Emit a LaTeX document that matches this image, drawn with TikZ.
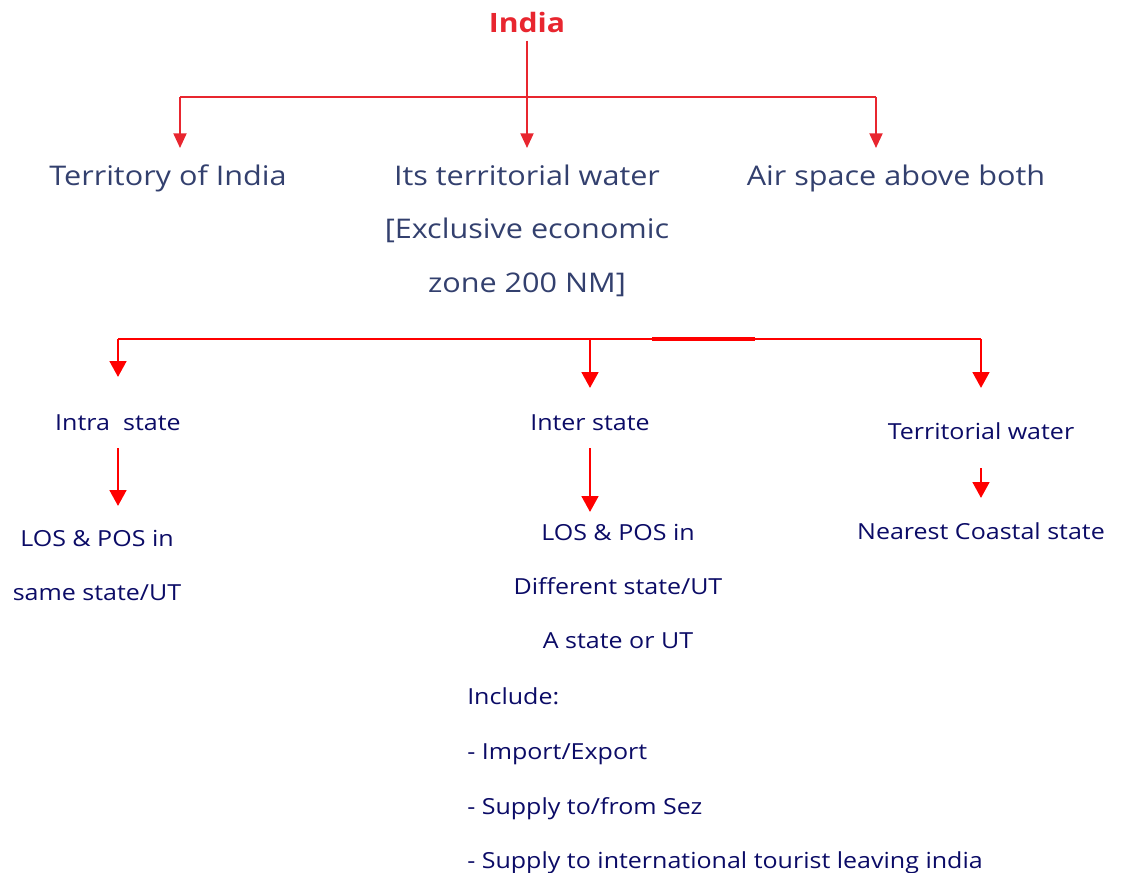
\documentclass[tikz,border=0pt]{standalone}
\usepackage{fontspec}
\setmainfont{Open Sans}
\newfontfamily\widesans{Open Sans}[FakeStretch=1.13]
\usetikzlibrary{arrows.meta}
\definecolor{topblue}{HTML}{33406E}
\definecolor{topred}{HTML}{E8262F}
\definecolor{navy}{HTML}{0B0B66}
\definecolor{botred}{HTML}{FF0000}
\begin{document}
\begin{tikzpicture}[x=0.75pt,y=-0.75pt,
  title/.style={text=topred, font=\widesans\bfseries\fontsize{20}{25}\selectfont, inner sep=0pt, anchor=base},
  toptext/.style={text=topblue, font=\widesans\fontsize{20.3}{24}\selectfont, inner sep=0pt, anchor=base},
  bottext/.style={text=navy, font=\widesans\fontsize{16.6}{21}\selectfont, inner sep=0pt, anchor=base},
  listtext/.style={bottext, anchor=base west},
  topline/.style={draw=topred, line width=1.5pt},
  toparrow/.style={topline, -{Triangle[width=9.75pt,length=11pt]}},
  botline/.style={draw=botred, line width=2.1pt},
  botarrow/.style={botline, -{Triangle[width=12.5pt,length=12pt]}},
]
\useasboundingbox (0,0) rectangle (1121,872);

% --- first level
\node[title] (india) at (527,32) {India};
\node[toptext] (terr)  at (168,185) {Territory of India};
\node[toptext] (water) at (527,185) {Its territorial water};
\node[toptext] (eez1)  at (527,238) {[Exclusive economic};
\node[toptext] (eez2)  at (527,292) {zone 200 NM]};
\node[toptext] (air)   at (896,185) {Air space above both};

\coordinate (j0) at (527,97);
\coordinate (jL) at (180,97);
\coordinate (jR) at (876,97);
\coordinate (tL) at (180,148);
\coordinate (tM) at (527,148);
\coordinate (tR) at (876,148);

\draw[topline] ([yshift=-6pt]india.south) -- (j0);
\draw[topline] (jL) -- (jR);
\draw[toparrow] (jL) -- (tL);
\draw[toparrow] (j0) -- (tM);
\draw[toparrow] (jR) -- (tR);

% --- second level
\node[bottext] (intra)  at (118,430) {Intra\hspace{0.6em}state};
\node[bottext] (inter)  at (590,430) {Inter state};
\node[bottext] (tw)     at (981,439) {Territorial water};

\node[bottext] (los1a)  at (97,546) {LOS \& POS in};
\node[bottext] (los1b)  at (97,600) {same state/UT};

\node[bottext] (los2a)  at (618,540) {LOS \& POS in};
\node[bottext] (los2b)  at (618,594) {Different state/UT};
\node[bottext] (los2c)  at (618,648) {A state or UT};

\node[listtext] (inc)   at (467,704) {Include:};
\node[listtext] (inc1)  at (467,759) {- Import/Export};
\node[listtext] (inc2)  at (467,814) {- Supply to/from Sez};
\node[listtext] (inc3)  at (467,868) {- Supply to international tourist leaving india};

\node[bottext] (coast)  at (981,539) {Nearest Coastal state};

\coordinate (bL) at (118,339);
\coordinate (bM) at (590,339);
\coordinate (bR) at (981,339);
\coordinate (sL) at (118,377);
\coordinate (sM) at (590,388);
\coordinate (sR) at (981,388);

\draw[botline] (bL) -- (bR);
\draw[botline, line width=2.6pt] (652,339) -- (755,339);
\draw[botarrow] (bL) -- (sL);
\draw[botarrow] (bM) -- (sM);
\draw[botarrow] (bR) -- (sR);

\coordinate (uL) at (118,448);
\coordinate (vL) at (118,506);
\coordinate (uM) at (590,448);
\coordinate (vM) at (590,512);
\coordinate (uR) at (981,468);
\coordinate (vR) at (981,498);

\draw[botarrow] (uL) -- (vL);
\draw[botarrow] (uM) -- (vM);
\draw[botarrow] (uR) -- (vR);
\end{tikzpicture}
\end{document}
